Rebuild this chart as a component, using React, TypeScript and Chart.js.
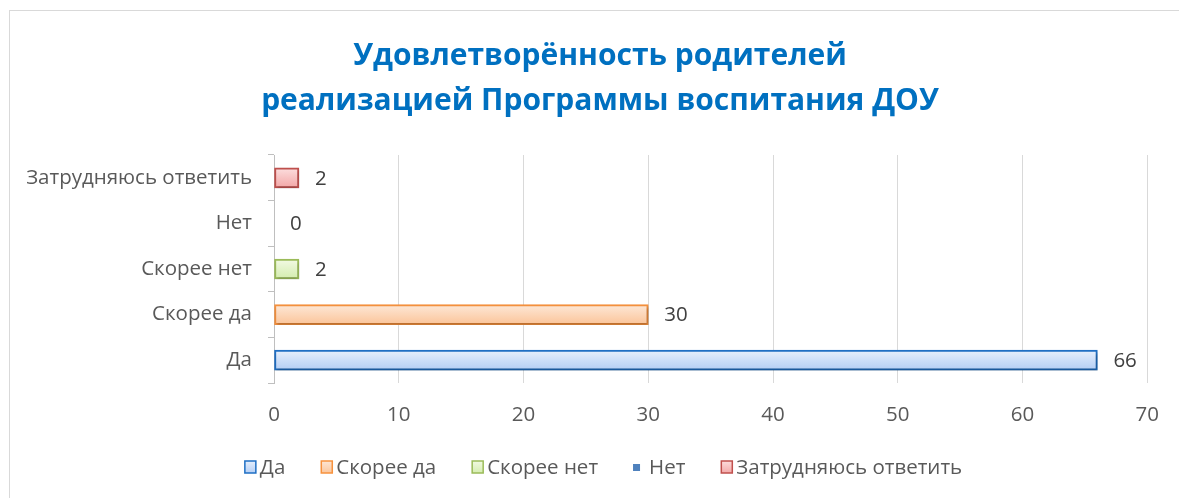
import React, { useEffect, useRef } from "react";
import { Chart, registerables } from "chart.js";

Chart.register(...registerables);

const titleLines = ["Удовлетворённость родителей", "реализацией Программы воспитания ДОУ"];
const categories = ["Да", "Скорее да", "Скорее нет", "Нет", "Затрудняюсь ответить"];
const values = [66, 30, 2, 0, 2];
const borderColors = ["#1F6FC4", "#F7923E", "#9BBB59", "#4F81BD", "#C0504D"];
const fillTop = ["#E4EEFC", "#FDE6D4", "#F1F9E2", "#4F81BD", "#FCDCDC"];
const fillBottom = ["#B5CFF5", "#FBC69C", "#D5EDB0", "#4F81BD", "#F3A9A9"];
const xMin = 0;
const xMax = 70;
const xStep = 10;

const FONT = "'Open Sans', 'Noto Sans', sans-serif";
const TEXT = "#595959";
const FS = 20.5;

export default function App() {
  const ref = useRef<HTMLCanvasElement | null>(null);

  useEffect(() => {
    if (!ref.current) return;

    const datasets = categories.map((name, i) => ({
      label: name,
      data: categories.map((_, j) => (j === i ? values[i] : null)),
      borderColor: borderColors[i],
      borderWidth: values[i] === 0 ? 0 : 2,
      borderSkipped: false,
      barThickness: 20,
      backgroundColor: (ctx: any) => {
        if (values[i] === 0) return "rgba(0,0,0,0)";
        const chart = ctx.chart;
        const y = chart.scales && chart.scales.y;
        if (!chart.chartArea || !y || ctx.dataIndex === undefined) return fillBottom[i];
        const cy = y.getPixelForValue(ctx.dataIndex);
        const g = chart.ctx.createLinearGradient(0, cy - 9, 0, cy + 9);
        g.addColorStop(0, fillTop[i]);
        g.addColorStop(1, fillBottom[i]);
        return g;
      },
    }));

    const shadowPlugin = {
      id: "shadow",
      beforeDatasetsDraw(chart: any) {
        const c = chart.ctx;
        c.save();
        c.shadowColor = "rgba(0,0,0,0.28)";
        c.shadowBlur = 3;
        c.shadowOffsetX = 1;
        c.shadowOffsetY = 2;
      },
      afterDatasetsDraw(chart: any) {
        chart.ctx.restore();
      },
    };

    const overlayPlugin = {
      id: "overlay",
      afterDraw(chart: any) {
        const c = chart.ctx;
        c.save();
        // data labels
        c.font = `${FS}px ${FONT}`;
        c.fillStyle = "#404040";
        c.textBaseline = "middle";
        c.textAlign = "left";
        chart.data.datasets.forEach((ds: any, di: number) => {
          const meta = chart.getDatasetMeta(di);
          meta.data.forEach((el: any, idx: number) => {
            const v = ds.data[idx];
            if (v === null || v === undefined) return;
            c.fillText(String(v), el.x + 16, el.y + 1);
          });
        });
        // title
        c.font = `bold 30px ${FONT}`;
        c.fillStyle = "#0070C0";
        c.textAlign = "center";
        c.fillText(titleLines[0], 600, 56);
        c.fillText(titleLines[1], 600, 101);
        // legend
        c.font = `${FS}px ${FONT}`;
        c.textAlign = "left";
        const slot = 16;
        const gapItems = 35;
        const widths = categories.map((t) => c.measureText(t).width);
        const total = widths.reduce((a, w) => a + slot + w, 0) + gapItems * (categories.length - 1);
        let x = 603 - total / 2;
        const ly = 467;
        categories.forEach((t, i) => {
          if (values[i] === 0) {
            c.fillStyle = borderColors[i];
            c.fillRect(x, ly - 3, 7, 7);
          } else {
            const g = c.createLinearGradient(0, ly - 6, 0, ly + 6);
            g.addColorStop(0, fillTop[i]);
            g.addColorStop(1, fillBottom[i]);
            c.fillStyle = g;
            c.fillRect(x + 1, ly - 6, 11, 12);
            c.strokeStyle = borderColors[i];
            c.lineWidth = 1.5;
            c.strokeRect(x + 1, ly - 6, 11, 12);
          }
          c.fillStyle = TEXT;
          c.fillText(t, x + slot, ly + 1);
          x += slot + widths[i] + gapItems;
        });
        c.restore();
      },
    };

    const chart = new Chart(ref.current, {
      type: "bar",
      data: { labels: categories, datasets: datasets as any },
      options: {
        animation: false,
        responsive: false,
        indexAxis: "y",
        layout: { padding: { left: 0, right: 31, top: 155, bottom: 0 } },
        plugins: {
          legend: { display: false },
          title: { display: false },
          tooltip: { enabled: false },
        },
        scales: {
          x: {
            stacked: true,
            min: xMin,
            max: xMax,
            ticks: {
              stepSize: xStep,
              color: TEXT,
              font: { family: FONT, size: FS },
              padding: 20,
            },
            grid: { color: "#D9D9D9", lineWidth: 1, drawTicks: false },
            border: { display: false },
            afterFit(scale: any) {
              scale.height = 115;
            },
          },
          y: {
            stacked: true,
            reverse: true,
            ticks: {
              color: TEXT,
              font: { family: FONT, size: FS },
              padding: 16,
            },
            grid: {
              drawOnChartArea: false,
              drawTicks: true,
              tickLength: 6,
              color: "#BFBFBF",
              offset: true,
            },
            border: { display: true, color: "#BFBFBF" },
            afterFit(scale: any) {
              scale.width = 274;
            },
          },
        },
      } as any,
      plugins: [shadowPlugin, overlayPlugin],
    });
    return () => chart.destroy();
  }, []);

  return (
    <>
      <div
        style={{
          position: "fixed",
          left: 9,
          top: 10,
          width: 1200,
          height: 520,
          border: "1px solid #D9D9D9",
          boxSizing: "border-box",
        }}
      />
      <canvas
        ref={ref}
        width={1179}
        height={498}
        style={{ position: "fixed", left: 0, top: 0, width: 1179, height: 498 }}
      />
    </>
  );
}
